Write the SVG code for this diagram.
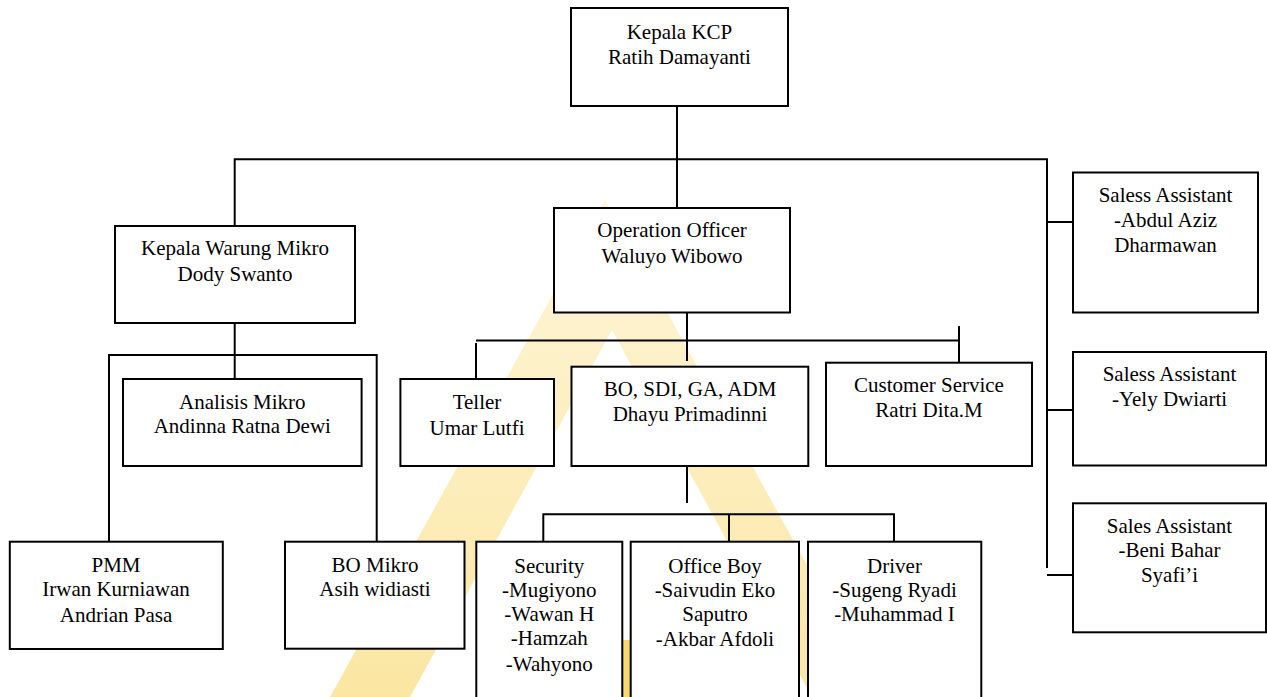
<svg xmlns="http://www.w3.org/2000/svg" width="1267" height="697" viewBox="0 0 1267 697">
<defs>
<linearGradient id="wm" x1="0" y1="0" x2="0" y2="1">
<stop offset="0" stop-color="#fef6da"/>
<stop offset="1" stop-color="#fbe6a2"/>
</linearGradient>
</defs>
<style>
.box{fill:#ffffff;stroke:#000000;stroke-width:2}
.ln{fill:none;stroke:#000000;stroke-width:2}
text{font-family:"Liberation Serif","Times New Roman",serif;font-size:21px;fill:#000000;text-anchor:middle}
</style>
<rect x="0" y="0" width="1267" height="697" fill="#ffffff"/>
<g id="watermark">
<polygon points="605,200 880,697 812,697 612,330 410,697 330,697" fill="url(#wm)"/>
<rect x="619" y="640" width="15" height="57" fill="#f9d870"/>
</g>
<g id="connectors">
<path class="ln" d="M677,106 V208"/>
<path class="ln" d="M234.7,226 V159.3 H1047 V568"/>
<path class="ln" d="M1047,222 H1073 M1047,410 H1073 M1047,575 H1073"/>
<path class="ln" d="M234.7,323 V379"/>
<path class="ln" d="M109,541.7 V355 H376.7 V541.7"/>
<path class="ln" d="M687,311 V361"/>
<path class="ln" d="M476,340.5 H959"/>
<path class="ln" d="M476,343 V379"/>
<path class="ln" d="M959,326 V362.7"/>
<path class="ln" d="M687,466 V503"/>
<path class="ln" d="M543.3,541.7 V514.3 H894 V541.7 M729,514.3 V541.7"/>
</g>
<g id="kepala-kcp">
<rect class="box" x="571" y="8" width="217" height="98"/>
<text x="679.5" y="38.5">Kepala KCP</text>
<text x="679.5" y="64">Ratih Damayanti</text>
</g>
<g id="kepala-warung-mikro">
<rect class="box" x="115" y="226" width="240" height="97"/>
<text x="235" y="255">Kepala Warung Mikro</text>
<text x="235" y="281">Dody Swanto</text>
</g>
<g id="operation-officer">
<rect class="box" x="554" y="208" width="236" height="104.5"/>
<text x="672" y="237">Operation Officer</text>
<text x="672" y="262.7">Waluyo Wibowo</text>
</g>
<g id="saless-assistant-1">
<rect class="box" x="1073" y="172.5" width="185" height="140"/>
<text x="1165.5" y="201.7">Saless Assistant</text>
<text x="1165.5" y="226.7">-Abdul Aziz</text>
<text x="1165.5" y="251.7">Dharmawan</text>
</g>
<g id="analisis-mikro">
<rect class="box" x="123" y="379" width="238.6" height="87"/>
<text x="242.3" y="409">Analisis Mikro</text>
<text x="242.3" y="433.3">Andinna Ratna Dewi</text>
</g>
<g id="teller">
<rect class="box" x="400.4" y="379" width="153.6" height="87"/>
<text x="477" y="409.3">Teller</text>
<text x="477" y="435">Umar Lutfi</text>
</g>
<g id="bo-sdi-ga-adm">
<rect class="box" x="571.5" y="366.7" width="236.8" height="99.3"/>
<text x="690" y="395.5">BO, SDI, GA, ADM</text>
<text x="690" y="420.5">Dhayu Primadinni</text>
</g>
<g id="customer-service">
<rect class="box" x="826" y="362.7" width="206" height="103.3"/>
<text x="929" y="391.7">Customer Service</text>
<text x="929" y="417.3">Ratri Dita.M</text>
</g>
<g id="saless-assistant-2">
<rect class="box" x="1073" y="352" width="193" height="113.5"/>
<text x="1169.5" y="380.7">Saless Assistant</text>
<text x="1169.5" y="406">-Yely Dwiarti</text>
</g>
<g id="sales-assistant-3">
<rect class="box" x="1073" y="503.3" width="193" height="129"/>
<text x="1169.5" y="532.7">Sales Assistant</text>
<text x="1169.5" y="556.7">-Beni Bahar</text>
<text x="1169.5" y="581.7">Syafi’i</text>
</g>
<g id="pmm">
<rect class="box" x="9.8" y="541.7" width="213" height="107.3"/>
<text x="116" y="572">PMM</text>
<text x="116" y="596.3">Irwan Kurniawan</text>
<text x="116" y="621.5">Andrian Pasa</text>
</g>
<g id="bo-mikro">
<rect class="box" x="285" y="541.7" width="179.5" height="107"/>
<text x="375" y="572">BO Mikro</text>
<text x="375" y="596.3">Asih widiasti</text>
</g>
<g id="security">
<rect class="box" x="476.3" y="541.7" width="146" height="170"/>
<text x="549.3" y="572.5">Security</text>
<text x="549.3" y="596.5">-Mugiyono</text>
<text x="549.3" y="621">-Wawan H</text>
<text x="549.3" y="645">-Hamzah</text>
<text x="549.3" y="670.5">-Wahyono</text>
</g>
<g id="office-boy">
<rect class="box" x="630.7" y="541.7" width="168.3" height="170"/>
<text x="715" y="572.5">Office Boy</text>
<text x="715" y="596.5">-Saivudin Eko</text>
<text x="715" y="620.5">Saputro</text>
<text x="715" y="645.5">-Akbar Afdoli</text>
</g>
<g id="driver">
<rect class="box" x="808" y="541.7" width="173.3" height="170"/>
<text x="894.5" y="572.5">Driver</text>
<text x="894.5" y="596.5">-Sugeng Ryadi</text>
<text x="894.5" y="621">-Muhammad I</text>
</g>
</svg>
